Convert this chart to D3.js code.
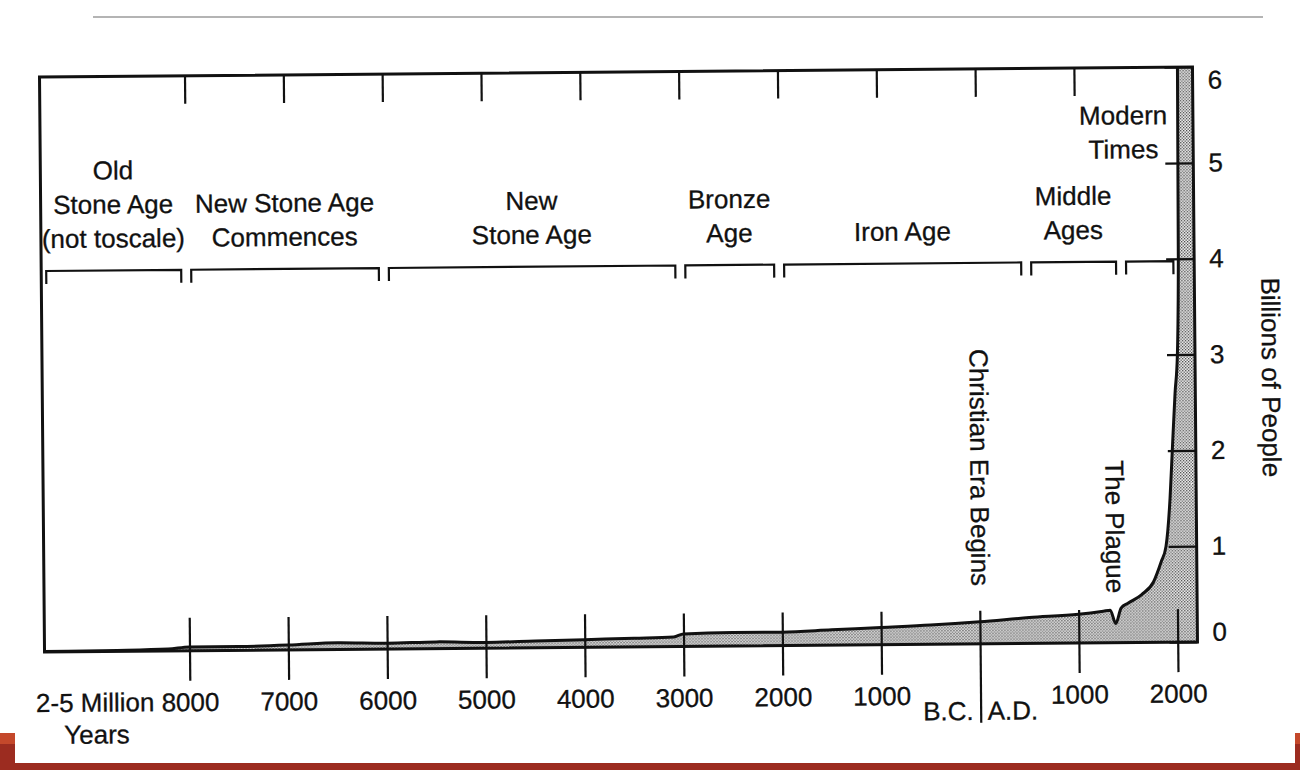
<!DOCTYPE html>
<html>
<head>
<meta charset="utf-8">
<script src="https://cdn.jsdelivr.net/npm/d3@7"></script>
<style>
  body { margin: 0; background: #fff; }
  text { font-family: "Liberation Sans", Arial, sans-serif; font-size: 26px; fill: #111; stroke: #111; stroke-width: 0.3px; }
</style>
</head>
<body>
<div id="chart"></div>
<script>
// world population in billions, negative years = B.C.
const years = [-2000000, -1000000, -300000, -8000, -7500, -7000, -6500, -6000, -5500, -5000, -4500, -4000, -3500, -3100, -3000,
  -2500, -2000, -1500, -1000, -500, 0, 500, 1000, 1250, 1320, 1375, 1430, 1500, 1640, 1760, 1840, 1890, 1935, 1962, 1995,
  2022, 2040, 2048, 2200];
const population = [0.005, 0.01, 0.02, 0.04, 0.04, 0.05, 0.07, 0.06, 0.07, 0.06, 0.07, 0.08, 0.09, 0.10, 0.13,
  0.14, 0.14, 0.16, 0.18, 0.20, 0.23, 0.27, 0.30, 0.33, 0.34, 0.20, 0.36, 0.41, 0.50, 0.63, 0.84, 1.0, 1.5, 2.0, 2.6,
  3.0, 4.0, 6.0, 6.0];

const bottomTicks = [-8000, -7000, -6000, -5000, -4000, -3000, -2000, -1000, 0, 1000, 2000];
const bottomTickLabels = ["8000", "7000", "6000", "5000", "4000", "3000", "2000", "1000", "", "1000", "2000"];
const topTicks = [-8000, -7000, -6000, -5000, -4000, -3000, -2000, -1000, 0, 1000];
const yTicks = [0, 1, 2, 3, 4, 5, 6];

const eraNames = [["Old", "Stone Age", "(not toscale)"], ["New Stone Age", "Commences"], ["New", "Stone Age"],
  ["Bronze", "Age"], ["Iron Age"], ["Middle", "Ages"], ["Modern", "Times"]];
const eraStart = [-2000000, -8000, -6000, -3000, -2000, 500, 1460];
const eraEnd = [-8000, -6000, -3000, -2000, 500, 1460, 2040];

const svg = d3.select("#chart").append("svg")
  .attr("width", 1300)
  .attr("height", 770);

// slide furniture
svg.append("line").attr("x1", 93).attr("x2", 1263).attr("y1", 17).attr("y2", 17)
  .attr("stroke", "#b4b4b4").attr("stroke-width", 2);
svg.append("rect").attr("x", 0).attr("y", 763).attr("width", 1300).attr("height", 7).attr("fill", "#9c2c20");
svg.append("rect").attr("x", 0).attr("y", 733).attr("width", 15).attr("height", 37).attr("fill", "#9c2c20");
svg.append("rect").attr("x", 0).attr("y", 733).attr("width", 15).attr("height", 11).attr("fill", "#c4482b");
svg.append("rect").attr("x", 1295).attr("y", 733).attr("width", 5).attr("height", 37).attr("fill", "#9c2c20");
svg.append("rect").attr("x", 1295).attr("y", 733).attr("width", 5).attr("height", 11).attr("fill", "#c4482b");

const defs = svg.append("defs");
const pat = defs.append("pattern").attr("id", "dots")
  .attr("patternUnits", "userSpaceOnUse").attr("width", 3).attr("height", 3);
pat.append("rect").attr("width", 3).attr("height", 3).attr("fill", "#f2f2f2");
pat.append("rect").attr("x", 0).attr("y", 0).attr("width", 1.3).attr("height", 1.3).attr("fill", "#444");
pat.append("rect").attr("x", 1.5).attr("y", 1.5).attr("width", 1.3).attr("height", 1.3).attr("fill", "#444");

// the scan is slightly tilted
const g = svg.append("g").attr("transform", "rotate(-0.5 618 360)");

// first segment (millions of years) is not to scale
const x = d3.scaleLinear()
  .domain([-2000000, -8000, 2200])
  .range([42, 187, 1195]);
const y = d3.scaleLinear()
  .domain([0, 6])
  .range([647, 72]);

const pts = years.map((d, i) => [d, population[i]]);

g.append("path")
  .datum(pts)
  .attr("fill", "url(#dots)")
  .attr("d", d3.area().x(d => x(d[0])).y0(y(0)).y1(d => y(d[1])).curve(d3.curveMonotoneX));

g.append("path")
  .datum(pts.slice(0, -1))
  .attr("fill", "none")
  .attr("stroke", "#111")
  .attr("stroke-width", 3)
  .attr("stroke-linejoin", "round")
  .attr("d", d3.line().x(d => x(d[0])).y(d => y(d[1])).curve(d3.curveMonotoneX));

// frame
g.append("rect")
  .attr("x", x(-2000000)).attr("y", y(6))
  .attr("width", x(2200) - x(-2000000)).attr("height", y(0) - y(6))
  .attr("fill", "none").attr("stroke", "#111").attr("stroke-width", 3);

// bottom axis, ticks cross the baseline
g.append("g")
  .attr("transform", `translate(0,${y(0)})`)
  .call(d3.axisBottom(x).tickValues(bottomTicks).tickSizeInner(30).tickSizeOuter(0).tickPadding(12)
    .tickFormat((d, i) => bottomTickLabels[i]))
  .call(a => a.select(".domain").remove())
  .call(a => a.selectAll(".tick line").attr("y1", -33).attr("stroke", "#111").attr("stroke-width", 2.2)
    .filter(d => d === 0).attr("y2", 79))
  .attr("font-size", null);

g.append("text").attr("x", x(0) - 7).attr("y", y(0) + 76).attr("text-anchor", "end").text("B.C.");
g.append("text").attr("x", x(0) + 7).attr("y", y(0) + 76).text("A.D.");
g.append("text").attr("x", 33).attr("y", y(0) + 60).text("2-5 Million");
g.append("text").attr("x", 61).attr("y", y(0) + 92).text("Years");

// top ticks
g.append("g")
  .attr("transform", `translate(0,${y(6)})`)
  .call(d3.axisBottom(x).tickValues(topTicks).tickSizeInner(28).tickSizeOuter(0).tickFormat(""))
  .call(a => a.select(".domain").remove())
  .call(a => a.selectAll(".tick line").attr("stroke", "#111").attr("stroke-width", 2.2));

// right axis
g.append("g")
  .attr("transform", `translate(${x(2200)},0)`)
  .call(d3.axisRight(y).tickValues(yTicks).tickFormat(d3.format("d"))
    .tickSizeInner(-28).tickSizeOuter(0).tickPadding(15))
  .call(a => a.select(".domain").remove())
  .call(a => a.selectAll(".tick line").attr("stroke", "#111").attr("stroke-width", 2.2))
  .call(a => a.selectAll(".tick text").attr("y", d => d === 0 ? -10 : d === 6 ? 13 : 0))
  .attr("font-size", null);

g.append("text")
  .attr("transform", `translate(${x(2200) + 76},383) rotate(90)`)
  .attr("text-anchor", "middle").attr("dy", "0.35em")
  .text("Billions of People");

// era brackets and names
const bracketY = 266;
eraNames.forEach((lines, i) => {
  const x0 = x(eraStart[i]) + 5, x1 = x(eraEnd[i]) - 5;
  g.append("path")
    .attr("d", `M${x0},${bracketY + 13}V${bracketY}H${x1}V${bracketY + 13}`)
    .attr("fill", "none").attr("stroke", "#111").attr("stroke-width", 2.2);
  const cx = Math.min((x0 + x1) / 2, x(2000) - 50);
  const last = i === eraNames.length - 1 ? y(5) - 5 : 243;
  lines.forEach((t, j) => {
    g.append("text")
      .attr("x", cx)
      .attr("y", last - (lines.length - 1 - j) * 34)
      .attr("text-anchor", "middle")
      .text(t);
  });
});

// vertical notes
g.append("text")
  .attr("transform", `translate(${x(0) + 1},${y(1.84)}) rotate(90)`)
  .attr("text-anchor", "middle").attr("dy", "0.35em")
  .text("Christian Era Begins");
g.append("text")
  .attr("transform", `translate(${x(1375)},${y(1.21)}) rotate(90)`)
  .attr("text-anchor", "middle").attr("dy", "0.35em")
  .text("The Plague");
</script>
</body>
</html>
